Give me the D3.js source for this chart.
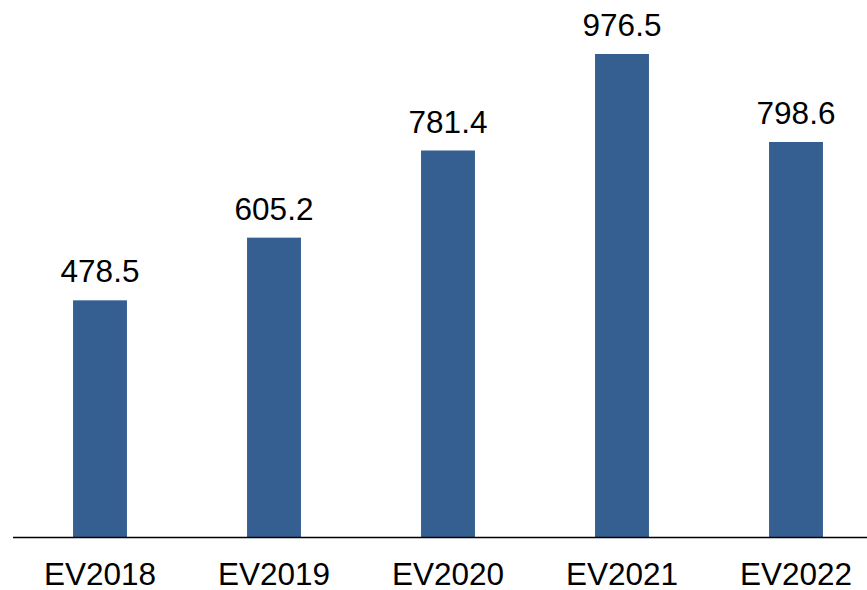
<!DOCTYPE html>
<html>
<head>
<meta charset="utf-8">
<script src="https://cdn.jsdelivr.net/npm/d3@7"></script>
<style>
  body { margin: 0; background: #fff; }
  svg { display: block; }
</style>
</head>
<body>
<div id="chart"></div>
<script>
var categories = ['EV2018', 'EV2019', 'EV2020', 'EV2021', 'EV2022'];
var values = [478.5, 605.2, 781.4, 976.5, 798.6];
var labels = ['478.5', '605.2', '781.4', '976.5', '798.6'];

var width = 867, height = 590;
var baseY = 537, topY = 54;
var barColor = '#365f91';
var font = 'Liberation Sans, Arial, sans-serif';

var svg = d3.select('#chart').append('svg')
	.attr('width', width)
	.attr('height', height);

var x = d3.scaleBand()
	.domain(categories)
	.range([13, 883])
	.paddingInner(0.69)
	.paddingOuter(0.345);

var y = d3.scaleLinear()
	.domain([0, d3.max(values)])
	.range([baseY, topY]);

var data = categories.map(function(c, i) { return {cat: c, val: values[i], label: labels[i]}; });

// bars
svg.selectAll('.bar')
	.data(data)
	.enter().append('rect')
	.attr('class', 'bar')
	.attr('x', function(d) { return x(d.cat); })
	.attr('y', function(d) { return y(d.val); })
	.attr('width', x.bandwidth())
	.attr('height', function(d) { return baseY - y(d.val); })
	.attr('fill', barColor);

// value labels
svg.selectAll('.val')
	.data(data)
	.enter().append('text')
	.attr('class', 'val')
	.attr('x', function(d) { return x(d.cat) + x.bandwidth() / 2; })
	.attr('y', function(d) { return y(d.val) - 18; })
	.attr('text-anchor', 'middle')
	.style('font-family', font)
	.style('font-size', '31.5px')
	.attr('fill', '#000')
	.text(function(d) { return d.label; });

// x axis
var xAxis = d3.axisBottom(x).tickSize(0).tickPadding(0);
var gx = svg.append('g')
	.attr('transform', 'translate(0,' + baseY + ')')
	.call(xAxis);
gx.select('.domain').remove();
gx.append('line')
	.attr('x1', 13).attr('x2', width)
	.attr('y1', 0.5).attr('y2', 0.5)
	.attr('stroke', '#000')
	.attr('stroke-width', 1.6);
gx.selectAll('.tick text')
	.attr('dy', null)
	.attr('y', 48)
	.style('font-family', font)
	.style('font-size', '31.5px')
	.attr('fill', '#000');
</script>
</body>
</html>
